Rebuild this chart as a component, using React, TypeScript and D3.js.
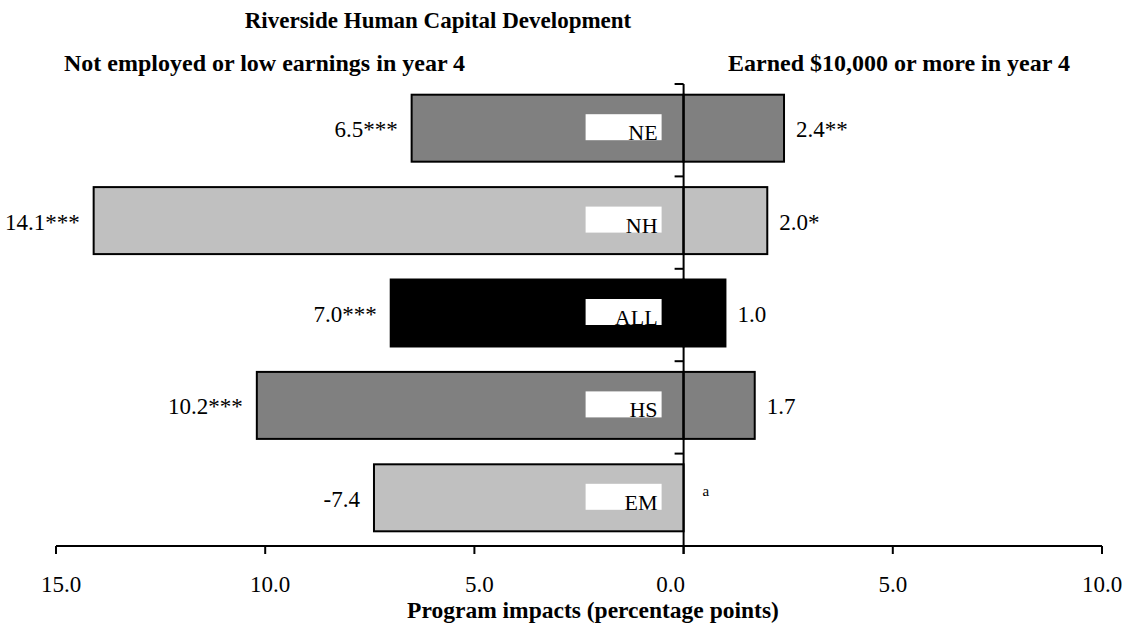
import React from 'react';
import * as d3 from 'd3';

// groups, top to bottom
const categories = ['NE', 'NH', 'ALL', 'HS', 'EM'];
// impacts on "not employed or low earnings" (drawn to the left of 0)
const lowValues = [6.5, 14.1, 7.0, 10.2, 7.4];
const lowLabels = ['6.5***', '14.1***', '7.0***', '10.2***', '-7.4'];
// impacts on "earned $10,000 or more" (drawn to the right of 0), null = not shown
const highValues: (number | null)[] = [2.4, 2.0, 1.0, 1.7, null];
const highLabels = ['2.4**', '2.0*', '1.0', '1.7', 'a'];
const barColors = ['#808080', '#c0c0c0', '#000000', '#808080', '#c0c0c0'];
const tickValues = [-15, -10, -5, 0, 5, 10];

const FONT = '"Liberation Serif", "Times New Roman", serif';

const App: React.FC = () => {
  const width = 1132;
  const height = 625;

  const x = d3.scaleLinear().domain([-15, 10]).range([56, 1102]);
  const x0 = x(0);

  const y = d3.scaleBand<string>()
    .domain(categories)
    .range([84, 546])
    .paddingInner(0.275)
    .paddingOuter(0.1375);

  const step = y.step();
  const bw = y.bandwidth();
  const axisY = 546;

  // small nudges so the tick labels sit where the original put them
  const tickDx = (t: number) => (t < 0 ? 5 : t === 0 ? -13 : 0);

  return (
    // fixed so the body margin can't push out scrollbars
    <div style={{ position: 'fixed', top: 0, left: 0 }}>
      <svg width={width} height={height} style={{ display: 'block', fontFamily: FONT }}>
        <rect width={width} height={height} fill="#fff" />

        <text x={438} y={28} textAnchor="middle" fontWeight="bold" fontSize={23}>
          Riverside Human Capital Development
        </text>
        <text x={64} y={71} fontWeight="bold" fontSize={24}>
          Not employed or low earnings in year 4
        </text>
        <text x={1070} y={71} textAnchor="end" fontWeight="bold" fontSize={24}>
          Earned $10,000 or more in year 4
        </text>

        {categories.map((c, i) => {
          const top = (y(c) || 0) - 2;
          const cy = top + bw / 2;
          const hv = highValues[i];
          return (
            <g key={c}>
              <rect
                x={x(-lowValues[i])}
                y={top}
                width={x0 - x(-lowValues[i])}
                height={bw}
                fill={barColors[i]}
                stroke="#000"
                strokeWidth={2}
              />
              {hv !== null && (
                <rect
                  x={x0}
                  y={top}
                  width={x(hv) - x0}
                  height={bw}
                  fill={barColors[i]}
                  stroke="#000"
                  strokeWidth={2}
                />
              )}
              <rect x={x0 - 98} y={cy - 14} width={76} height={26} fill="#fff" />
              <text x={x0 - 26} y={cy + 12} textAnchor="end" fontSize={22}>
                {c}
              </text>
              <text x={x(-lowValues[i]) - 14} y={cy + 9} textAnchor="end" fontSize={23}>
                {lowLabels[i]}
              </text>
              {hv !== null ? (
                <text x={x(hv) + 12} y={cy + 9} fontSize={23}>
                  {highLabels[i]}
                </text>
              ) : (
                <text x={x0 + 19} y={cy - 2} fontSize={15}>
                  {highLabels[i]}
                </text>
              )}
            </g>
          );
        })}

        {/* category axis */}
        <line x1={x0} x2={x0} y1={84} y2={axisY + 8} stroke="#000" strokeWidth={2} />
        {categories.map((c, i) => (
          <line key={c} x1={x0 - 9} x2={x0} y1={84 + i * step} y2={84 + i * step} stroke="#000" strokeWidth={2} />
        ))}

        {/* value axis */}
        <line x1={x(-15)} x2={x(10)} y1={axisY} y2={axisY} stroke="#000" strokeWidth={2} />
        {tickValues.map(t => (
          <g key={t}>
            <line x1={x(t)} x2={x(t)} y1={axisY} y2={axisY + 8} stroke="#000" strokeWidth={2} />
            <text x={x(t) + tickDx(t)} y={592} textAnchor="middle" fontSize={23}>
              {d3.format('.1f')(Math.abs(t))}
            </text>
          </g>
        ))}
        <text x={593} y={618} textAnchor="middle" fontWeight="bold" fontSize={23.5}>
          Program impacts (percentage points)
        </text>
      </svg>
    </div>
  );
};

export default App;
